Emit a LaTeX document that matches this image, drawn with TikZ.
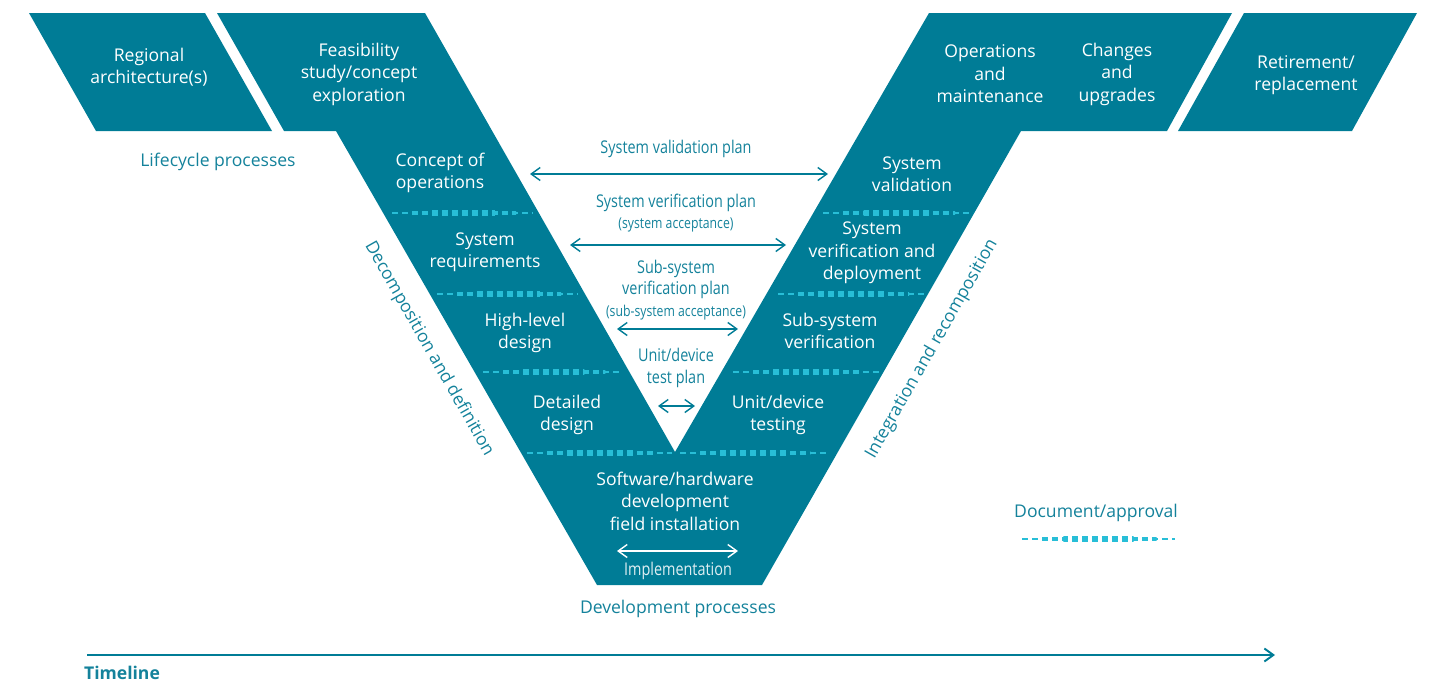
\documentclass[tikz,border=0pt]{standalone}
\usepackage{fontspec}
\setmainfont{Open Sans}
\newfontfamily\condfont[FakeStretch=0.82]{Open Sans}
\usetikzlibrary{positioning}
\usetikzlibrary{arrows.meta}

\definecolor{vteal}{RGB}{0,124,150}
\definecolor{labteal}{RGB}{20,130,155}
\definecolor{apprcyan}{RGB}{40,190,215}

\tikzset{
    vshape/.style={fill=vteal},
    stage/.style={text=white, align=center, inner sep=0pt, font=\fontsize{10}{12.8}\selectfont},
    proclabel/.style={text=labteal, inner sep=0pt, font=\fontsize{10}{12.8}\selectfont},
    planlabel/.style={text=labteal, align=center, inner sep=0pt, font=\condfont\fontsize{10}{12.4}\selectfont},
    planarrow/.style={draw=vteal, line width=0.8pt, >={Straight Barb[length=1.8mm,width=2.6mm]}, <->},
    apprdash/.style={draw=apprcyan, dash pattern=on 0.12cm off 0.08cm},
}

% tapered document/approval line: left x, right x, y
\newcommand{\apprline}[3]{%
    \foreach \w/\c in {0.9pt/0, 2pt/0.12, 3.2pt/0.27} {
        \begin{scope}
            \clip ({#1+\c*(#2-#1)}, #3-10) rectangle ({#2-\c*(#2-#1)}, #3+10);
            \draw[apprdash, line width=\w] (#1,#3) -- (#2,#3);
        \end{scope}
    }
}

\begin{document}
\begin{tikzpicture}[x=0.02cm, y=-0.02cm]
    \useasboundingbox (0,0) rectangle (1433,683);

    % the V and its wings
    \fill[vshape] (29,13) -- (205,13) -- (272,131) -- (96,131) -- cycle;
    \fill[vshape] (217,13) -- (425,13) -- (675,452) -- (929,13) -- (1232,13)
        -- (1167,131) -- (1021,131) -- (762,585) -- (597,585) -- (336,131)
        -- (284,131) -- cycle;
    \fill[vshape] (1244,13) -- (1417,13) -- (1352,131) -- (1178,131) -- cycle;

    % document/approval lines
    \apprline{392}{533}{213}
    \apprline{437}{578}{294}
    \apprline{483}{622}{372}
    \apprline{527}{672}{453}
    \apprline{823}{973}{213}
    \apprline{778}{927}{294}
    \apprline{733}{880}{372}
    \apprline{680}{828}{453}
    \apprline{1022}{1175}{539}

    % stages
    \node[stage] (regional) at (149,67)  {Regional\\architecture(s)};
    \node[stage] (feasib)   at (359,74)  {Feasibility\\study/concept\\exploration};
    \node[stage] (conops)   at (440,173) {Concept of\\operations};
    \node[stage] (sysreq)   at (485,252) {System\\requirements};
    \node[stage] (hldesign) at (525,333) {High-level\\design};
    \node[stage] (detdesign) at (567,415) {Detailed\\design};
    \node[stage] (swhw)     at (675,501) {Software/hardware\\development\\field installation};
    \node[stage] (unittest) at (778,415) {Unit/device\\testing};
    \node[stage] (subver)   at (830,331) {Sub-system\\verification};
    \node[stage] (sysver)   at (872,253) {System\\verification and\\deployment};
    \node[stage] (sysval)   at (912,174) {System\\validation};
    \node[stage] (opsmaint) at (990,74)  {Operations\\and\\maintenance};
    \node[stage] (changes)  at (1117,74) {Changes\\and\\upgrades};
    \node[stage] (retire)   at (1306,75) {Retirement/\\replacement};

    % process labels
    \node[proclabel] (lifecycle) at (218,162) {Lifecycle processes};
    \node[proclabel] (devproc)   at (678,609) {Development processes};
    \node[proclabel] (docappr)   at (1096,513) {Document/approval};
    \node[proclabel, rotate=-60.3] (decomp) at (429,349) {Decomposition and definition};
    \node[proclabel, rotate=60.3]  (integr) at (932,349) {Integration and recomposition};

    % plans across the V
    \node[planlabel] (valplan) at (676,149) {System validation plan};
    \node[planlabel] (verplan) at (676,213) {System verification plan\\\fontsize{8.5}{10}\selectfont (system acceptance)};
    \node[planlabel] (subplan) at (676,290) {Sub-system\\verification plan\\\fontsize{8.5}{10}\selectfont (sub-system acceptance)};
    \node[planlabel] (unitplan) at (676,368) {Unit/device\\test plan};

    \coordinate (valL)  at (530,174);  \coordinate (valR)  at (828,174);
    \coordinate (verL)  at (570,245);  \coordinate (verR)  at (786,245);
    \coordinate (subL)  at (617,329);  \coordinate (subR)  at (738,329);
    \coordinate (unitL) at (658,406);  \coordinate (unitR) at (695,406);
    \coordinate (implL) at (617,551);  \coordinate (implR) at (738,551);
    \draw[planarrow] (valL) -- (valR);
    \draw[planarrow] (verL) -- (verR);
    \draw[planarrow] (subL) -- (subR);
    \draw[planarrow] (unitL) -- (unitR);
    \draw[planarrow, draw=white] (implL) -- (implR);
    \node[planlabel, text=white!88!vteal] (impl) at (678,571) {Implementation};

    % timeline
    \coordinate (tstart) at (87,655);
    \coordinate (tend)   at (1275,655);
    \draw[planarrow, line width=1.1pt, ->] (tstart) -- (tend);
    \node[proclabel, font=\bfseries\fontsize{10}{12}\selectfont] (timeline) at (122,673) {Timeline};
\end{tikzpicture}
\end{document}
